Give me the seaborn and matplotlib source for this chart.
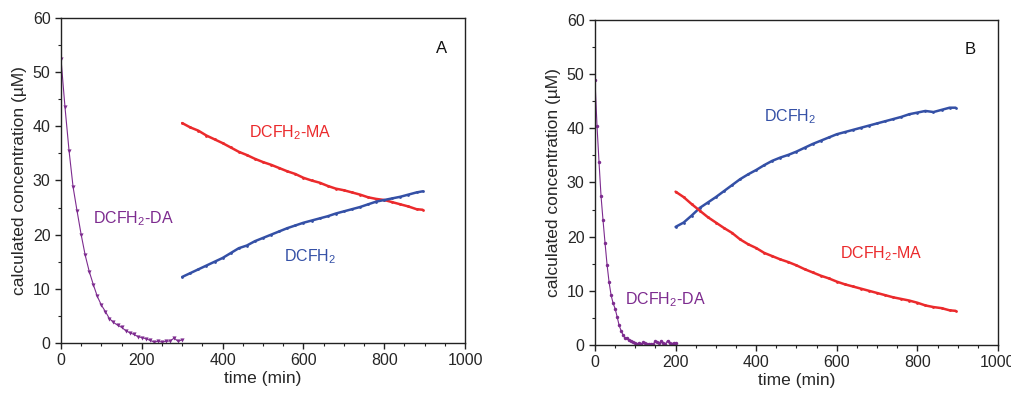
import numpy as np
import pandas as pd
import matplotlib
matplotlib.use("Agg")
import matplotlib.pyplot as plt
from matplotlib.ticker import MultipleLocator
import seaborn as sns

# Panel A
a_da_t = list(range(0, 301, 10))
a_da = [52.5, 43.5, 35.5, 28.8, 24.3, 20.0, 16.2, 13.2, 10.8, 8.6, 7.0, 5.8, 4.5,
        3.8, 3.3, 2.9, 2.3, 1.9, 1.6, 1.2, 1.0, 0.8, 0.5, 0.2, 0.3, 0.2, 0.3, 0.4,
        0.9, 0.3, 0.6]
a_t = list(range(300, 900, 20)) + [895]
a_ma = [40.6, 39.8, 39.2, 38.3, 37.6, 36.9, 36.1, 35.3, 34.7, 34.0, 33.4, 32.9,
        32.3, 31.7, 31.2, 30.5, 30.0, 29.6, 29.0, 28.5, 28.2, 27.8, 27.4, 26.9,
        26.6, 26.4, 26.0, 25.6, 25.2, 24.7, 24.6]
a_h2 = [12.2, 12.9, 13.6, 14.3, 15.0, 15.7, 16.6, 17.5, 18.0, 18.8, 19.4, 20.0,
        20.6, 21.2, 21.7, 22.2, 22.6, 23.0, 23.4, 23.9, 24.3, 24.7, 25.1, 25.6,
        26.1, 26.4, 26.7, 27.0, 27.4, 27.8, 28.0]

# Panel B
b_da_t = list(range(0, 201, 5))
b_da = [48.9, 40.5, 33.8, 27.5, 23.0, 18.8, 14.8, 11.6, 9.2, 7.7, 6.7, 5.2, 3.6,
        2.6, 1.8, 1.2, 1.3, 0.9, 0.8, 0.5, 0.3, 0.2, 0.4, 0.2, 0.5, 0.3, 0.1, 0.2,
        0.1, 0.2, 0.7, 0.5, 0.3, 0.8, 0.4, 0.2, 0.8, 0.3, 0.2, 0.4, 0.3]
b_t = list(range(200, 900, 20)) + [895]
b_h2 = [21.8, 22.6, 23.9, 25.3, 26.3, 27.3, 28.4, 29.5, 30.6, 31.5, 32.3, 33.2,
        34.0, 34.6, 35.1, 35.7, 36.4, 37.1, 37.7, 38.3, 38.9, 39.3, 39.7, 40.1,
        40.5, 40.9, 41.3, 41.7, 42.1, 42.6, 42.9, 43.2, 43.0, 43.4, 43.8, 43.8]
b_ma = [28.3, 27.3, 26.0, 24.8, 23.6, 22.6, 21.6, 20.7, 19.5, 18.6, 17.9, 17.0,
        16.4, 15.8, 15.3, 14.7, 14.0, 13.4, 12.8, 12.3, 11.7, 11.2, 10.8, 10.4,
        10.0, 9.6, 9.2, 8.8, 8.5, 8.2, 7.8, 7.3, 7.0, 6.8, 6.4, 6.3]

RED = "#eb2a2c"
BLUE = "#3450a6"
PURPLE = "#7d2b8f"

sns.set_style("ticks")
plt.rcParams["font.family"] = ["Liberation Sans", "DejaVu Sans"]
plt.rcParams["mathtext.default"] = "regular"

fig = plt.figure(figsize=(10.11, 3.94), dpi=100)
ax_a = fig.add_axes([0.0603, 0.1294, 0.3997, 0.825])
ax_b = fig.add_axes([0.5885, 0.1244, 0.3986, 0.825])


def style_axis(ax):
    ax.set_xlim(0, 1000)
    ax.set_ylim(0, 60)
    ax.xaxis.set_major_locator(MultipleLocator(200))
    ax.xaxis.set_minor_locator(MultipleLocator(50))
    ax.yaxis.set_major_locator(MultipleLocator(10))
    ax.yaxis.set_minor_locator(MultipleLocator(5))
    ax.tick_params(which="major", length=4, width=1, labelsize=11.5, color="#222222")
    ax.tick_params(which="minor", length=2.5, width=0.8, color="#222222")
    for sp in ax.spines.values():
        sp.set_visible(True)
        sp.set_linewidth(1.0)
        sp.set_color("#222222")
    ax.set_xlabel("time (min)", fontsize=12.5, labelpad=2)
    ax.set_ylabel("calculated concentration (\u00b5M)", fontsize=12.5, labelpad=4)


def series(ax, t, y, color, marker, ms, lw):
    sns.lineplot(x=t, y=y, ax=ax, color=color, marker=marker, markersize=ms,
                 markeredgewidth=0, linewidth=lw, sort=False)


series(ax_a, a_da_t, a_da, PURPLE, "v", 3, 0.8)
series(ax_a, a_t, a_ma, RED, ".", 4, 1.8)
series(ax_a, a_t, a_h2, BLUE, ".", 4, 1.8)
style_axis(ax_a)
ax_a.text(180, 23, "DCFH$_2$-DA", color=PURPLE, fontsize=11.5, ha="center", va="center")
ax_a.text(567, 38.8, "DCFH$_2$-MA", color=RED, fontsize=11.5, ha="center", va="center")
ax_a.text(616, 16, "DCFH$_2$", color=BLUE, fontsize=11.5, ha="center", va="center")
ax_a.text(941, 54.3, "A", color="#111111", fontsize=12, ha="center", va="center")

series(ax_b, b_da_t, b_da, PURPLE, "o", 2.5, 0.8)
series(ax_b, b_t, b_h2, BLUE, ".", 4, 1.8)
series(ax_b, b_t, b_ma, RED, ".", 4, 1.8)
style_axis(ax_b)
ax_b.text(484, 42.1, "DCFH$_2$", color=BLUE, fontsize=11.5, ha="center", va="center")
ax_b.text(710, 16.8, "DCFH$_2$-MA", color=RED, fontsize=11.5, ha="center", va="center")
ax_b.text(174, 8.3, "DCFH$_2$-DA", color=PURPLE, fontsize=11.5, ha="center", va="center")
ax_b.text(930, 54.5, "B", color="#111111", fontsize=12, ha="center", va="center")

fig.savefig("out.png", dpi=100)
